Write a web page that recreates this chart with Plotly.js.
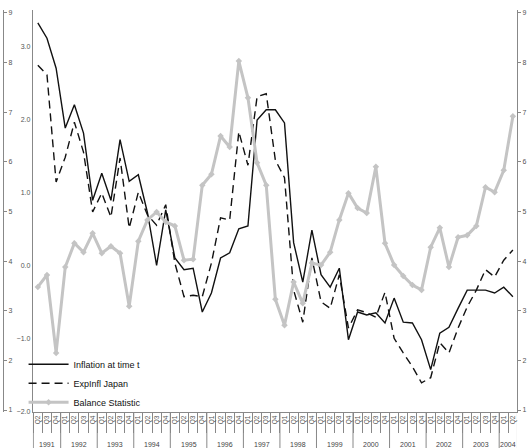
<!DOCTYPE html>
<html>
<head>
<meta charset="utf-8">
<script src="https://cdn.plot.ly/plotly-3.0.1.min.js"></script>
<style>body{margin:0}#chart{width:527px;height:448px}</style>
</head>
<body>
<div id="chart"></div>
<script>
// quarters 1991Q2 .. 2004Q2
var quarters = [];
var years = [];
for (var y = 1991; y <= 2004; y++) {
  for (var q = 1; q <= 4; q++) {
    if ((y == 1991 && q < 2) || (y == 2004 && q > 2)) continue;
    quarters.push('Q' + q);
    years.push(y);
  }
}
var idx = quarters.map(function (d, i) { return i; });

var inflation = [3.33, 3.12, 2.71, 1.89, 2.21, 1.82, 0.90, 1.27, 0.90, 1.73, 1.16, 1.25, 0.73,
  0.01, 0.77, 0.11, -0.05, -0.03, -0.63, -0.37, 0.11, 0.18, 0.51, 0.55, 2.0, 2.14, 2.14, 1.96,
  0.32, -0.22, 0.49, -0.12, -0.29, -0.03, -1.01, -0.63, -0.67, -0.64, -0.78, -0.44, -0.77, -0.78,
  -1.01, -1.42, -0.92, -0.84, -0.58, -0.33, -0.33, -0.33, -0.37, -0.29, -0.42];
var expInfl = [2.75, 2.62, 1.15, 1.49, 1.97, 1.56, 0.74, 1.0, 0.67, 1.48, 0.52, 1.01, 0.70,
  0.56, 0.84, 0.04, -0.42, -0.40, -0.42, 0.04, 0.66, 0.63, 1.84, 1.38, 2.32, 2.36, 1.45, 1.21,
  -0.33, -0.77, 0.11, -0.49, -0.58, -0.12, -0.85, -0.60, -0.64, -0.70, -0.36, -0.99, -1.19, -1.38,
  -1.60, -1.53, -1.05, -1.19, -0.85, -0.56, -0.33, -0.05, -0.15, 0.08, 0.22];
var balance = [3.48, 3.72, 2.15, 3.88, 4.36, 4.18, 4.56, 4.16, 4.30, 4.16, 3.09, 4.40, 4.83,
  4.99, 4.79, 4.71, 4.02, 4.04, 5.53, 5.75, 6.52, 6.30, 8.03, 7.29, 5.98, 5.53, 3.23, 2.71,
  3.58, 3.15, 3.96, 3.92, 4.18, 4.83, 5.37, 5.07, 4.97, 5.90, 4.36, 3.92, 3.70, 3.52, 3.42,
  4.28, 4.67, 3.88, 4.48, 4.52, 4.71, 5.49, 5.39, 5.83, 6.92];

var grey = '#888';
var traces = [
  {x: idx, y: inflation, name: 'Inflation at time t', mode: 'lines',
   line: {color: '#111', width: 1.4}},
  {x: idx, y: expInfl, name: 'ExpInfl Japan', mode: 'lines',
   line: {color: '#111', width: 1.4, dash: '8px,5px'}},
  {x: idx, y: balance, name: 'Balance Statistic', mode: 'lines+markers', yaxis: 'y2',
   line: {color: '#c4c4c4', width: 3}, marker: {symbol: 'diamond', size: 5, color: '#c4c4c4'}},
  {x: [0], y: [5], yaxis: 'y3', mode: 'markers', marker: {opacity: 0}, showlegend: false, hoverinfo: 'skip'}
];

// year separators and labels
var shapes = [];
var annotations = [];
var uniqYears = years.filter(function (v, i) { return years.indexOf(v) == i; });
uniqYears.forEach(function (yr) {
  var first = years.indexOf(yr), last = years.lastIndexOf(yr);
  annotations.push({x: (first + last) / 2, y: -0.095, xref: 'x', yref: 'paper', text: String(yr),
    showarrow: false, font: {size: 7, color: '#444'}});
  shapes.push({type: 'line', xref: 'x', yref: 'paper', x0: first - 0.5, x1: first - 0.5,
    y0: 0, y1: -0.12, line: {color: grey, width: 1}});
});
shapes.push({type: 'line', xref: 'x', yref: 'paper', x0: 52.5, x1: 52.5, y0: 0, y1: -0.12,
  line: {color: grey, width: 1}});

var layout = {
  width: 527, height: 448,
  margin: {l: 3, r: 10, t: 10, b: 36},
  paper_bgcolor: '#fff', plot_bgcolor: '#fff',
  font: {family: 'Liberation Sans, Arial', size: 7, color: '#555'},
  showlegend: true,
  legend: {x: 0.04, y: 0.155, xanchor: 'left', yanchor: 'top', bgcolor: 'rgba(0,0,0,0)',
    font: {size: 9, color: '#111'}, tracegroupgap: 0, itemwidth: 40},
  xaxis: {domain: [0.058, 1], range: [-0.55, 52.45], showgrid: false, zeroline: false,
    showline: true, linecolor: grey, tickvals: idx, ticktext: quarters, tickangle: -90,
    ticks: '', tickfont: {size: 6.5, color: '#555'},
    minor: {tick0: 0.5, dtick: 1, ticks: 'outside', ticklen: 20, tickcolor: grey}},
  yaxis: {range: [-2, 3.507], tickvals: [-2, -1, 0, 1, 2, 3], tickformat: '.1f',
    showgrid: false, zeroline: false, showline: true, linecolor: grey,
    ticks: 'outside', ticklen: 0},
  yaxis2: {range: [0.96, 9.06], overlaying: 'y', side: 'right', anchor: 'x',
    dtick: 1, showgrid: false, zeroline: false, showline: true, linecolor: grey,
    ticks: 'outside', ticklen: 3, tickcolor: grey},
  yaxis3: {range: [0.96, 9.06], overlaying: 'y', side: 'right', anchor: 'free', position: 0,
    dtick: 1, showgrid: false, zeroline: false, showline: true, linecolor: grey,
    ticks: 'outside', ticklen: 3, tickcolor: grey},
  shapes: shapes,
  annotations: annotations
};

Plotly.newPlot('chart', traces, layout, {displayModeBar: false});
</script>
</body>
</html>
